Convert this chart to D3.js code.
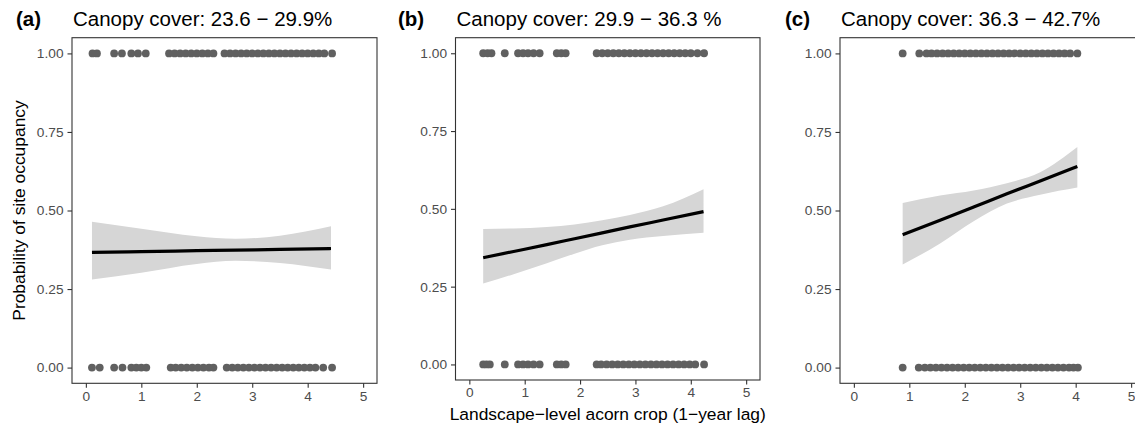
<!DOCTYPE html>
<html>
<head>
<meta charset="utf-8">
<script src="https://cdn.jsdelivr.net/npm/d3@7"></script>
<style>
  body { margin: 0; background: #fff; }
  svg { display: block; font-family: "Liberation Sans", Arial, sans-serif; }
</style>
</head>
<body>
<script>
// panel titles
const tags = ["(a)", "(b)", "(c)"];
const titles = ["Canopy cover: 23.6 \u2212 29.9%", "Canopy cover: 29.9 \u2212 36.3 %", "Canopy cover: 36.3 \u2212 42.7%"];

// observed acorn crop values for occupied (1) and unoccupied (0) sites
const occA = [0.12, 0.20, 0.51, 0.65, 0.82, 0.94, 1.08, 1.50, 1.60, 1.70, 1.80, 1.90, 2.00, 2.10, 2.20, 2.30,
  2.50, 2.60, 2.70, 2.80, 2.90, 3.00, 3.10, 3.20, 3.30, 3.40, 3.50, 3.60, 3.70, 3.80, 3.90, 4.00, 4.10, 4.20, 4.30, 4.44];
const unoccA = [0.11, 0.25, 0.51, 0.66, 0.82, 0.91, 1.00, 1.09, 1.53, 1.62, 1.72, 1.82, 1.92, 2.02, 2.12, 2.22, 2.30,
  2.54, 2.64, 2.74, 2.84, 2.94, 3.04, 3.14, 3.24, 3.34, 3.44, 3.54, 3.64, 3.74, 3.84, 3.94, 4.04, 4.14, 4.28, 4.44];
const occB = [0.25, 0.33, 0.40, 0.64, 0.88, 0.97, 1.06, 1.16, 1.27, 1.58, 1.66, 1.74, 2.30, 2.40, 2.50, 2.60,
  2.70, 2.80, 2.90, 3.00, 3.10, 3.20, 3.30, 3.40, 3.50, 3.60, 3.70, 3.80, 3.90, 4.00, 4.12, 4.24];
const unoccB = [0.25, 0.31, 0.37, 0.64, 0.88, 0.97, 1.06, 1.16, 1.27, 1.58, 1.66, 1.74, 2.30, 2.38, 2.48, 2.58,
  2.68, 2.78, 2.88, 2.98, 3.08, 3.18, 3.28, 3.38, 3.48, 3.58, 3.68, 3.78, 3.88, 3.98, 4.08, 4.24];
const occC = [0.88, 1.18, 1.31, 1.40, 1.50, 1.60, 1.70, 1.80, 1.90, 2.00, 2.10, 2.20, 2.30, 2.40, 2.50, 2.60,
  2.70, 2.80, 2.90, 3.00, 3.10, 3.20, 3.30, 3.40, 3.50, 3.60, 3.70, 3.80, 3.90, 4.03];
const unoccC = [0.88, 1.17, 1.28, 1.38, 1.48, 1.58, 1.68, 1.78, 1.88, 1.98, 2.08, 2.18, 2.28, 2.38, 2.48, 2.58,
  2.68, 2.78, 2.88, 2.98, 3.08, 3.18, 3.28, 3.38, 3.48, 3.58, 3.68, 3.78, 3.88, 3.96, 4.04];

// fitted probability and 95% CI
const fitXA = [0.11, 1.0, 2.0, 2.7, 3.5, 4.42];
const fitA  = [0.367, 0.369, 0.372, 0.374, 0.376, 0.379];
const loA   = [0.280, 0.302, 0.330, 0.340, 0.333, 0.312];
const hiA   = [0.464, 0.442, 0.418, 0.410, 0.420, 0.450];

const fitXB = [0.25, 0.8, 1.4, 1.9, 2.4, 2.9, 3.5, 4.23];
const fitB  = [0.343, 0.363, 0.385, 0.404, 0.423, 0.442, 0.464, 0.491];
const loB   = [0.260, 0.290, 0.325, 0.356, 0.383, 0.401, 0.413, 0.423];
const hiB   = [0.435, 0.437, 0.442, 0.450, 0.463, 0.480, 0.508, 0.563];

const fitXC = [0.88, 1.555, 2.16, 2.76, 3.36, 4.03];
const fitC  = [0.423, 0.469, 0.511, 0.553, 0.594, 0.640];
const loC   = [0.328, 0.395, 0.466, 0.522, 0.550, 0.573];
const hiC   = [0.524, 0.548, 0.564, 0.587, 0.622, 0.702];

const xTicks = [0, 1, 2, 3, 4, 5];
const yTicks = [0, 0.25, 0.5, 0.75, 1];

const W = 1135, H = 427;
const svg = d3.select("body").append("svg")
    .attr("width", W)
    .attr("height", H);

svg.append("rect").attr("width", W).attr("height", H).attr("fill", "#fff");

// panel boxes (px)
const boxes = [
  { left: 72, right: 377, top: 37.7, bottom: 383.3, tagX: 16 },
  { left: 455.5, right: 760, top: 37.7, bottom: 380, tagX: 398 },
  { left: 840, right: 1145, top: 37.7, bottom: 383.3, tagX: 785 }
];

const series = [
  { occ: occA, unocc: unoccA, fx: fitXA, fit: fitA, lo: loA, hi: hiA },
  { occ: occB, unocc: unoccB, fx: fitXB, fit: fitB, lo: loB, hi: hiB },
  { occ: occC, unocc: unoccC, fx: fitXC, fit: fitC, lo: loC, hi: hiC }
];

boxes.forEach((b, i) => {
  const s = series[i];
  const x = d3.scaleLinear().domain([-0.25, 5.25]).range([b.left, b.right]);
  const y = d3.scaleLinear().domain([-0.05, 1.05]).range([b.bottom, b.top]);
  const g = svg.append("g");

  // ribbon
  const band = s.fx.map((v, k) => ({ x: v, lo: s.lo[k], hi: s.hi[k], f: s.fit[k] }));
  g.append("path")
    .datum(band)
    .attr("fill", "#d6d6d6")
    .attr("d", d3.area().x(d => x(d.x)).y0(d => y(d.lo)).y1(d => y(d.hi)).curve(d3.curveMonotoneX));

  // points
  g.selectAll(".p1").data(s.occ).join("circle")
    .attr("cx", d => x(d)).attr("cy", y(1)).attr("r", 3.9).attr("fill", "#606060");
  g.selectAll(".p0").data(s.unocc).join("circle")
    .attr("cx", d => x(d)).attr("cy", y(0)).attr("r", 3.9).attr("fill", "#606060");

  // fitted line
  g.append("path")
    .datum(band)
    .attr("fill", "none")
    .attr("stroke", "#000")
    .attr("stroke-width", 3.2)
    .attr("d", d3.line().x(d => x(d.x)).y(d => y(d.f)).curve(d3.curveMonotoneX));

  // border
  g.append("rect")
    .attr("x", b.left).attr("y", b.top)
    .attr("width", b.right - b.left).attr("height", b.bottom - b.top)
    .attr("fill", "none").attr("stroke", "#333").attr("stroke-width", 1.1);

  // axes
  const ax = g.append("g").attr("transform", `translate(0,${b.bottom})`)
    .call(d3.axisBottom(x).tickValues(xTicks).tickSize(4.5).tickPadding(3).tickFormat(d3.format("d")));
  const ay = g.append("g").attr("transform", `translate(${b.left},0)`)
    .call(d3.axisLeft(y).tickValues(yTicks).tickSize(4.5).tickPadding(4).tickFormat(d3.format(".2f")));
  [ax, ay].forEach(a => {
    a.select(".domain").remove();
    a.selectAll("line").attr("stroke", "#333").attr("stroke-width", 1.1);
    a.selectAll("text").attr("fill", "#4d4d4d").style("font-size", "13.7px").style("font-family", "Liberation Sans, Arial, sans-serif");
  });

  // titles
  svg.append("text").attr("x", b.tagX).attr("y", 26)
    .attr("font-weight", "bold").attr("font-size", 20.5).text(tags[i]);
  svg.append("text").attr("x", b.left + 1).attr("y", 26)
    .attr("font-size", 20.5).text(titles[i]);
});

// axis titles
svg.append("text")
  .attr("x", (boxes[1].left + boxes[1].right) / 2).attr("y", 420)
  .attr("text-anchor", "middle").attr("font-size", 17.4)
  .text("Landscape\u2212level acorn crop (1\u2212year lag)");

svg.append("text")
  .attr("transform", `translate(24.5,${(boxes[0].top + boxes[0].bottom) / 2}) rotate(-90)`)
  .attr("text-anchor", "middle").attr("font-size", 17.4)
  .text("Probability of site occupancy");
</script>
</body>
</html>
